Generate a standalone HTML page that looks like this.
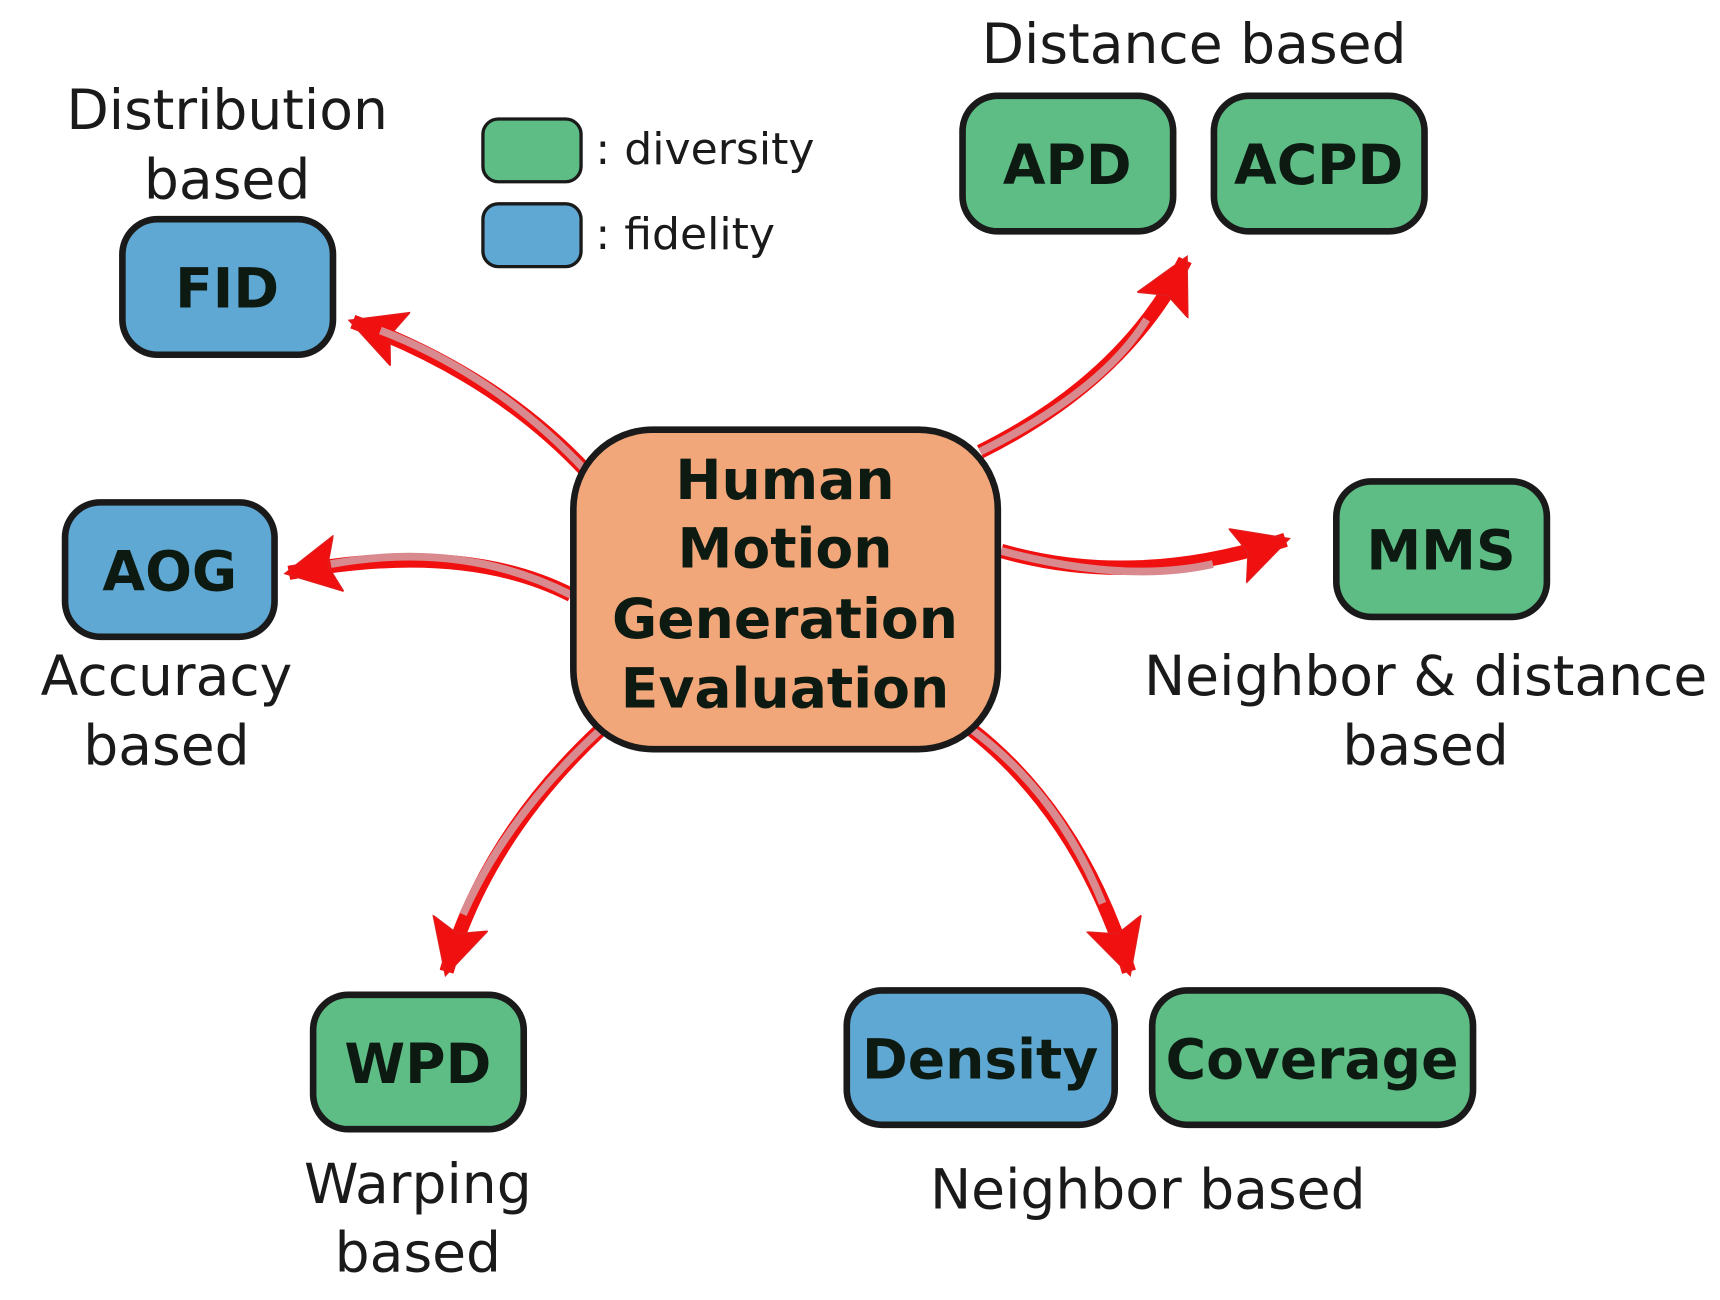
<!DOCTYPE html>
<html><head><meta charset="utf-8"><style>
html,body{margin:0;padding:0;background:#fff;}
svg{display:block;}
text{font-family:"DejaVu Sans","Liberation Sans",sans-serif;fill:#1a1a1a;}
.lbl{font-size:50px;text-anchor:middle;}
.bx{font-size:50px;font-weight:bold;text-anchor:middle;fill:#0d1a12;}
.o{fill:none;stroke:#f01010;stroke-width:13;}
.i{fill:none;stroke:#d98a8f;stroke-width:7;}
</style></head><body>
<svg width="1720" height="1300" viewBox="0 0 1560 1180" preserveAspectRatio="none" xmlns="http://www.w3.org/2000/svg">
<defs>
<marker id="ah" markerUnits="userSpaceOnUse" markerWidth="70" markerHeight="70" refX="46" refY="26" orient="auto">
<path d="M0,0 L50,26 L0,52 L10,26 Z" fill="#f01010" stroke="#e02020" stroke-width="1"/>
</marker>
</defs>
<g>
<path class="o" d="M532,428 Q450,340 320,292" marker-end="url(#ah)"/>
<path class="i" d="M532,428 Q450,340 345,300"/>
<path class="o" d="M518,540 Q420,490 262,520" marker-end="url(#ah)"/>
<path class="i" d="M518,540 Q420,490 300,512"/>
<path class="o" d="M889,410 Q1020,345 1075,236" marker-end="url(#ah)"/>
<path class="i" d="M889,410 Q1000,355 1040,290"/>
<path class="o" d="M908,500 Q1030,535 1166,490" marker-end="url(#ah)"/>
<path class="i" d="M908,500 Q1020,530 1100,512"/>
<path class="o" d="M545,662 Q440,760 405,882" marker-end="url(#ah)"/>
<path class="i" d="M545,662 Q460,740 420,830"/>
<path class="o" d="M881,662 Q980,740 1024,882" marker-end="url(#ah)"/>
<path class="i" d="M881,662 Q960,720 1000,820"/>
</g>
<rect x="520" y="390" width="385" height="290" rx="72" fill="#f2a77a" stroke="#1a1a1a" stroke-width="6"/>
<text class="bx" x="712" y="453">Human</text>
<text class="bx" x="712" y="515">Motion</text>
<text class="bx" x="712" y="579">Generation</text>
<text class="bx" x="712" y="642">Evaluation</text>
<g stroke="#1a1a1a" stroke-width="6">
<rect x="111" y="199" width="191" height="123" rx="32" fill="#5fa8d3"/>
<rect x="59" y="456" width="190" height="122" rx="32" fill="#5fa8d3"/>
<rect x="873" y="87" width="191" height="123" rx="32" fill="#5dbd85"/>
<rect x="1101" y="87" width="191" height="123" rx="32" fill="#5dbd85"/>
<rect x="1212" y="437" width="191" height="123" rx="32" fill="#5dbd85"/>
<rect x="284" y="903" width="191" height="122" rx="32" fill="#5dbd85"/>
<rect x="768" y="899" width="243" height="122" rx="32" fill="#5fa8d3"/>
<rect x="1045" y="899" width="291" height="122" rx="32" fill="#5dbd85"/>
</g>
<g stroke="#1a1a1a" stroke-width="3">
<rect x="438" y="108" width="89" height="57" rx="14" fill="#5dbd85"/>
<rect x="438" y="185" width="89" height="57" rx="14" fill="#5fa8d3"/>
</g>
<text x="540" y="149" style="font-size:40px">: diversity</text>
<text x="540" y="226" style="font-size:40px">: fidelity</text>
<text class="bx" x="206" y="279">FID</text>
<text class="bx" x="154" y="536">AOG</text>
<text class="bx" x="968" y="167">APD</text>
<text class="bx" x="1196" y="167">ACPD</text>
<text class="bx" x="1307" y="517">MMS</text>
<text class="bx" x="379" y="983">WPD</text>
<text class="bx" x="889" y="979">Density</text>
<text class="bx" x="1190" y="979">Coverage</text>
<text class="lbl" x="206" y="117">Distribution</text>
<text class="lbl" x="206" y="180">based</text>
<text class="lbl" x="1083" y="57">Distance based</text>
<text class="lbl" x="151" y="631">Accuracy</text>
<text class="lbl" x="151" y="694">based</text>
<text class="lbl" x="1293" y="631">Neighbor &amp; distance</text>
<text class="lbl" x="1293" y="694">based</text>
<text class="lbl" x="379" y="1092">Warping</text>
<text class="lbl" x="379" y="1154">based</text>
<text class="lbl" x="1041" y="1097">Neighbor based</text>
</svg>
</body></html>
